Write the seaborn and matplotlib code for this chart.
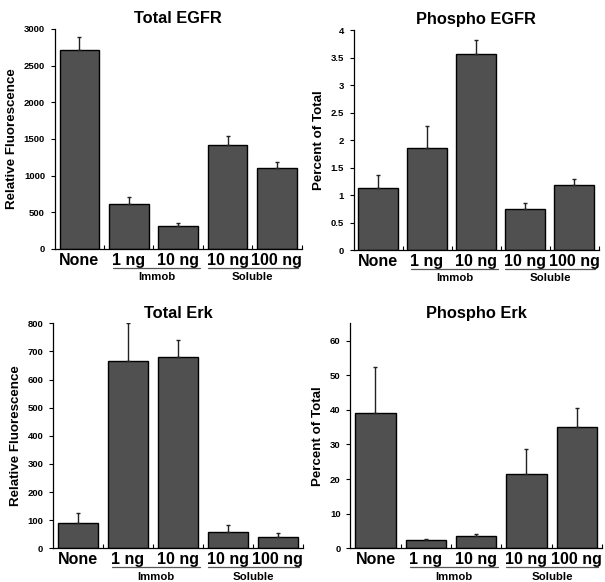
import seaborn as sns
import matplotlib.pyplot as plt
import matplotlib.ticker as mtick
import matplotlib.transforms as mtrans
import pandas as pd

# categories (unique keys) and the short tick labels shown under the bars
categories = ['None', 'Immob 1 ng', 'Immob 10 ng', 'Soluble 10 ng', 'Soluble 100 ng']
tick_labels = ['None', '1 ng', '10 ng', '10 ng', '100 ng']
groups = [('Immob', 0.68, 2.44), ('Soluble', 2.6, 4.42)]

total_egfr = [2720, 620, 315, 1420, 1100]
total_egfr_err = [165, 95, 45, 120, 85]

phospho_egfr = [1.12, 1.86, 3.57, 0.75, 1.18]
phospho_egfr_err = [0.25, 0.40, 0.25, 0.11, 0.12]

total_erk = [91, 666, 680, 57, 41]
total_erk_err = [33, 134, 60, 26, 12]

phospho_erk = [39.0, 2.3, 3.5, 21.4, 35.0]
phospho_erk_err = [13.3, 0.5, 0.5, 7.2, 5.6]

sns.set_style('ticks')
plt.rcParams['font.family'] = ['Liberation Sans', 'DejaVu Sans']
plt.rcParams['font.weight'] = 'bold'
for key in ('text.color', 'axes.labelcolor', 'xtick.color', 'ytick.color', 'axes.edgecolor'):
    plt.rcParams[key] = 'black'

BAR = '#505051'


def panel(fig, rect, title, ylabel, vals, errs, ymax, step):
    ax = fig.add_axes(rect)
    df = pd.DataFrame({'cat': categories, 'val': vals})
    sns.barplot(data=df, x='cat', y='val', order=categories, color=BAR,
                saturation=1, width=0.8, edgecolor='black', linewidth=1, ax=ax)
    ax.errorbar(range(len(vals)), vals, yerr=[[0] * len(errs), errs], fmt='none',
                ecolor='#222222', elinewidth=1, capsize=1.5, capthick=1)

    ax.set_xlim(-0.5, 4.5)
    ax.set_ylim(0, ymax)
    ax.yaxis.set_major_locator(mtick.MultipleLocator(step))
    ax.yaxis.set_major_formatter(mtick.FuncFormatter(lambda v, p: f'{v:g}'))
    ax.tick_params(axis='y', labelsize=6.8, length=3, width=0.8, pad=4)
    ax.set_xticks(range(5))
    ax.set_xticklabels(tick_labels, fontsize=11.5, fontweight='bold')
    ax.tick_params(axis='x', length=0, pad=3)
    ax.set_xticks([0.5, 1.5, 2.5, 3.5, 4.5], minor=True)
    ax.tick_params(axis='x', which='minor', direction='in', length=3, width=0.8)
    for lab in ax.get_yticklabels():
        lab.set_fontweight('bold')

    ax.set_xlabel('')
    ax.set_ylabel(ylabel, fontsize=9.6, fontweight='bold', labelpad=4)
    ax.set_title(title, fontsize=11.8, fontweight='bold', pad=4)
    sns.despine(ax=ax)
    for sp in ('left', 'bottom'):
        ax.spines[sp].set_linewidth(0.9)

    trans = mtrans.blended_transform_factory(ax.transData, ax.transAxes)
    for name, x0, x1 in groups:
        ax.plot([x0, x1], [-0.085, -0.085], color='#555555', lw=0.9,
                transform=trans, clip_on=False)
        ax.text((x0 + x1) / 2, -0.127, name, transform=trans, ha='center',
                va='center', fontsize=8.2, fontweight='bold')
    return ax


fig = plt.figure(figsize=(6.05, 5.82), dpi=100)

panel(fig, [0.0905, 0.5722, 0.408, 0.378], 'Total EGFR', 'Relative Fluorescence',
      total_egfr, total_egfr_err, 3000, 500)
panel(fig, [0.5843, 0.5704, 0.405, 0.378], 'Phospho EGFR', 'Percent of Total',
      phospho_egfr, phospho_egfr_err, 4, 0.5)
panel(fig, [0.0876, 0.0579, 0.413, 0.3866], 'Total Erk', 'Relative Fluorescence',
      total_erk, total_erk_err, 800, 100)
panel(fig, [0.5790, 0.0579, 0.416, 0.3866], 'Phospho Erk', 'Percent of Total',
      phospho_erk, phospho_erk_err, 65, 10)

fig.savefig('out.png', dpi=100)
